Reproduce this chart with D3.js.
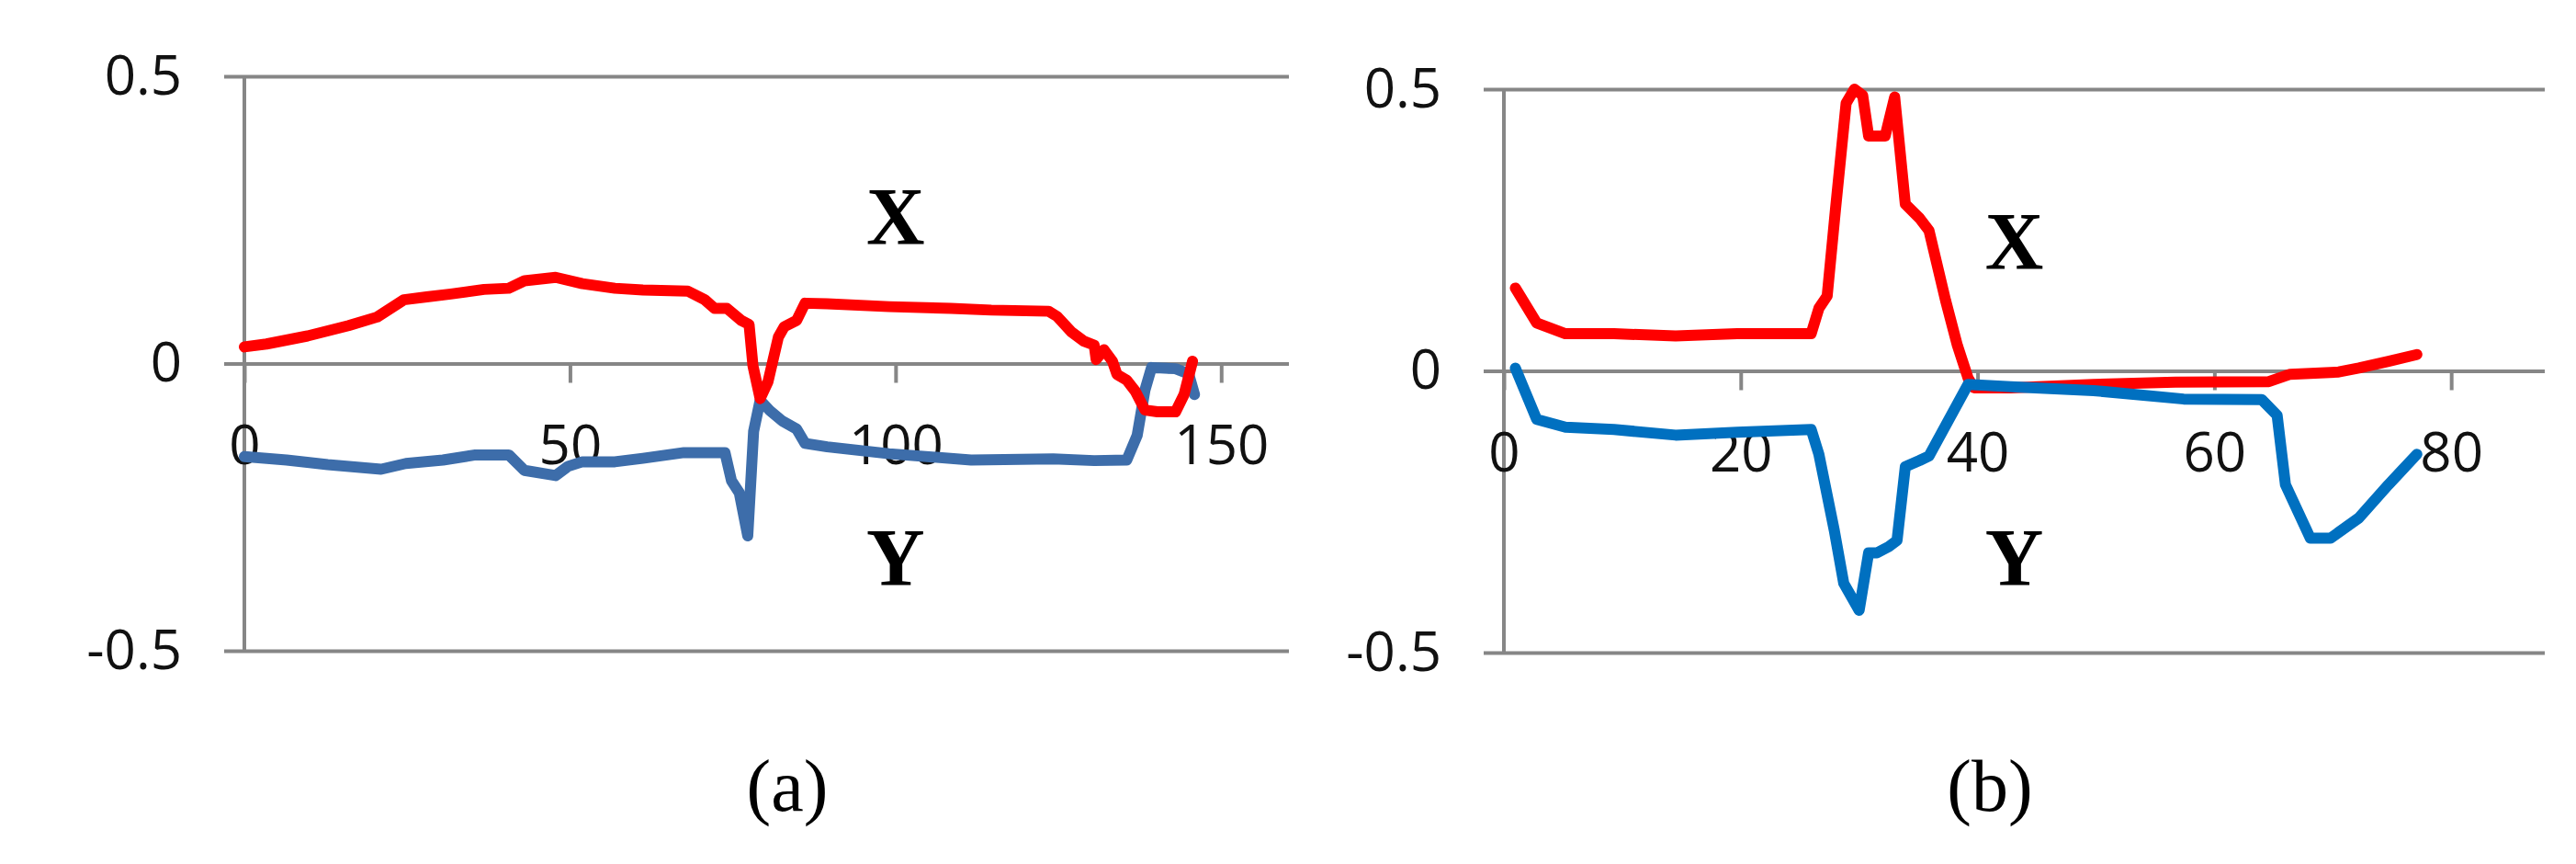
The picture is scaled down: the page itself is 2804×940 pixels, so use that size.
<!DOCTYPE html>
<html lang="en">
<head>
  <meta charset="UTF-8" />
  <title>X / Y traces (a) (b)</title>
  <script src="https://d3js.org/d3.v7.min.js"></script>
  <style>
    body { margin: 0; background: #fff; }
    svg { display: block; background: #fff; }
    .tick text { font-family: "Open Sans", "Noto Sans", sans-serif; fill: #111; }
    .lbl { font-family: "Liberation Serif", "DejaVu Serif", serif; fill: #000; }
  </style>
</head>
<body>
<svg id="chart" width="2804" height="940"></svg>
<script>
  // ---- data ----
  // panel (a)
  const xTicksA = [0, 50, 100, 150];
  const redAx = [0, 3.4, 9.7, 16, 20.4, 24.5, 28, 31.7, 36.8, 40.6, 43, 47.8, 51.9, 56.9, 61.2, 68.1, 70.7, 72.2, 74.1, 76.3, 77.5, 78.1, 79.2, 80.4, 82, 82.9, 84.8, 86.1, 89.5, 99, 108.5, 114.7, 123.5, 124.8, 127, 128.9, 130.5, 130.8, 132, 133.3, 134, 135.5, 136.8, 138.3, 140.2, 143, 144.3, 145.6];
  const redAy = [0.029, 0.034, 0.048, 0.066, 0.081, 0.111, 0.116, 0.121, 0.129, 0.131, 0.144, 0.150, 0.139, 0.131, 0.128, 0.126, 0.111, 0.096, 0.096, 0.075, 0.068, -0.004, -0.061, -0.032, 0.046, 0.064, 0.075, 0.105, 0.104, 0.099, 0.096, 0.093, 0.091, 0.082, 0.055, 0.039, 0.032, 0.007, 0.024, 0.004, -0.019, -0.029, -0.048, -0.081, -0.084, -0.084, -0.054, 0.004];
  const blueAx = [0, 6.5, 12.8, 21, 24.8, 30.5, 35.5, 40.6, 43, 47.8, 49.7, 51.9, 56.9, 61.2, 67.5, 73.8, 74.8, 76, 77.3, 78.2, 79.2, 80.7, 82.6, 84.8, 86.1, 89.5, 99, 111.6, 124.2, 130.5, 135.5, 137.1, 138.3, 139.3, 143, 145, 145.9];
  const blueAy = [-0.162, -0.168, -0.176, -0.184, -0.174, -0.168, -0.159, -0.159, -0.186, -0.195, -0.179, -0.171, -0.171, -0.165, -0.155, -0.155, -0.204, -0.225, -0.300, -0.118, -0.064, -0.082, -0.100, -0.114, -0.139, -0.145, -0.157, -0.168, -0.166, -0.169, -0.168, -0.125, -0.046, -0.007, -0.009, -0.018, -0.054];

  // panel (b)
  const xTicksB = [0, 20, 40, 60, 80];
  const redBx = [0.97, 2.77, 5.2, 9.3, 14.5, 19.7, 25.95, 26.6, 27.3, 28, 28.9, 29.6, 30.3, 30.8, 32.2, 33, 33.9, 35.1, 35.9, 37.3, 38.3, 39.2, 39.7, 42.8, 49.8, 56.7, 64.6, 66.4, 70.5, 72.2, 74.7, 77.1];
  const redBy = [0.147, 0.085, 0.066, 0.066, 0.062, 0.066, 0.066, 0.111, 0.133, 0.286, 0.475, 0.5, 0.489, 0.417, 0.417, 0.486, 0.296, 0.271, 0.249, 0.125, 0.045, -0.013, -0.03, -0.03, -0.024, -0.02, -0.019, -0.006, -0.002, 0.005, 0.017, 0.029];
  const blueBx = [0.97, 2.77, 5.2, 9.3, 14.5, 19.7, 25.95, 26.6, 27.9, 28.7, 30, 30.8, 31.5, 32.5, 33.2, 33.9, 35.1, 35.9, 39.2, 42.8, 49.8, 57.4, 64, 65.3, 66, 68.1, 69.8, 72.2, 74.7, 77.1];
  const blueBy = [0.005, -0.086, -0.1, -0.104, -0.114, -0.109, -0.104, -0.148, -0.283, -0.377, -0.425, -0.323, -0.323, -0.312, -0.301, -0.17, -0.159, -0.151, -0.024, -0.028, -0.035, -0.05, -0.051, -0.079, -0.202, -0.297, -0.297, -0.261, -0.202, -0.148];

  const yTicks = [-0.5, 0, 0.5];
  const seriesNames = ["X", "Y"];

  // ---- layout of the two panels ----
  const panels = [
    { caption: "(a)", left: 266, right: 1403, top: 83, bottom: 708, xMax: 160.4,
      ticks: xTicksA, red: d3.zip(redAx, redAy), blue: d3.zip(blueAx, blueAy),
      blueColor: "#3d6daa", lw: 12, blueOnTop: false,
      capX: 857, nameX: 100, nameY: [0.209, -0.385] },
    { caption: "(b)", left: 1637, right: 2770, top: 97, bottom: 710, xMax: 87.9,
      ticks: xTicksB, red: d3.zip(redBx, redBy), blue: d3.zip(blueBx, blueBy),
      blueColor: "#0070c0", lw: 12, blueOnTop: true,
      capX: 2166, nameX: 43.1, nameY: [0.182, -0.379] }
  ];

  const svg = d3.select("#chart");
  const grid = "#868686";

  panels.forEach(p => {
    const g = svg.append("g");
    const x = d3.scaleLinear().domain([0, p.xMax]).range([p.left, p.right]);
    const y = d3.scaleLinear().domain([-0.5, 0.5]).range([p.bottom, p.top]);
    const out = 22; // tick length outside the axis

    // horizontal gridlines + y labels
    const yAxis = d3.axisLeft(y)
      .tickValues(yTicks)
      .tickFormat(d => d === 0 ? "0" : String(d))
      .tickSize(-(p.right - p.left + out))
      .tickPadding(46);
    g.append("g")
      .attr("transform", `translate(${p.left - out},0)`)
      .call(yAxis)
      .call(a => a.select(".domain").remove())
      .call(a => a.selectAll(".tick line").attr("stroke", grid).attr("stroke-width", 4))
      .call(a => a.selectAll(".tick text").attr("font-size", 60).attr("font-family", null));

    // vertical y axis line
    g.append("line")
      .attr("x1", x(0)).attr("x2", x(0))
      .attr("y1", y(0.5)).attr("y2", y(-0.5))
      .attr("stroke", grid).attr("stroke-width", 4);

    // x axis on the zero line
    const xAxis = d3.axisBottom(x)
      .tickValues(p.ticks)
      .tickSize(21)
      .tickPadding(46);
    g.append("g")
      .attr("transform", `translate(0,${y(0)})`)
      .call(xAxis)
      .call(a => a.select(".domain").remove())
      .call(a => a.selectAll(".tick line").attr("stroke", grid).attr("stroke-width", 4))
      .call(a => a.selectAll(".tick text").attr("font-size", 60).attr("font-family", null));

    // the two traces
    const line = d3.line().x(d => x(d[0])).y(d => y(d[1]));
    const traces = [
      { data: p.red, color: "#ff0000" },
      { data: p.blue, color: p.blueColor }
    ];
    if (p.blueOnTop === false) traces.reverse();
    traces.forEach(t => {
      g.append("path")
        .datum(t.data)
        .attr("d", line)
        .attr("fill", "none")
        .attr("stroke", t.color)
        .attr("stroke-width", p.lw)
        .attr("stroke-linejoin", "round")
        .attr("stroke-linecap", "round");
    });

    // "X" / "Y" names
    seriesNames.forEach((n, i) => {
      g.append("text")
        .attr("class", "lbl")
        .attr("x", x(p.nameX))
        .attr("y", y(p.nameY[i]))
        .attr("text-anchor", "middle")
        .attr("font-size", 88)
        .attr("font-weight", "bold")
        .text(n);
    });

    // caption under the panel
    g.append("text")
      .attr("class", "lbl")
      .attr("x", p.capX)
      .attr("y", 882)
      .attr("text-anchor", "middle")
      .attr("font-size", 80)
      .text(p.caption);
  });
</script>
</body>
</html>
